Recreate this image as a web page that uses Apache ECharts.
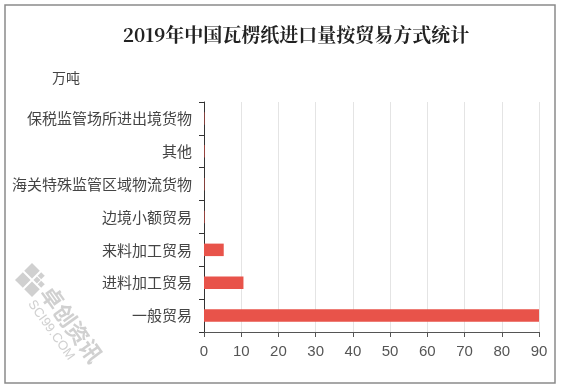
<!DOCTYPE html>
<html><head><meta charset="utf-8">
<script src="https://cdn.jsdelivr.net/npm/echarts@6/dist/echarts.min.js"></script>
<style>html,body{margin:0;padding:0;background:#fff}#c{width:562px;height:388px}</style>
</head><body><div id="c"></div>
<script>
const categories = ['一般贸易','进料加工贸易','来料加工贸易','边境小额贸易','海关特殊监管区域物流货物','其他','保税监管场所进出境货物'];
const values = [90.2, 10.6, 5.3, 0.15, 0.12, 0.15, 0.12];
const xTicks = [0,10,20,30,40,50,60,70,80,90];
const titleText = '2019年中国瓦楞纸进口量按贸易方式统计';
const unitText = '万吨';

const wm = 'rgba(170,170,170,0.55)';
const chart = echarts.init(document.getElementById('c'));
chart.setOption({
  animation:false,
  backgroundColor:'#fff',
  title:{text:titleText,left:291,top:20,textAlign:'center',
    textStyle:{fontFamily:'Noto Serif CJK SC, Noto Sans CJK SC',fontSize:19,fontWeight:'bold',color:'#222'}},
  graphic:[
    {type:'rect',shape:{x:5,y:5,width:550,height:378},style:{fill:'none',stroke:'#8a8a8a',lineWidth:1.5}},
    {type:'text',left:52,top:71,style:{text:unitText,fontFamily:'Noto Sans CJK SC',fontSize:14,fill:'#444'}},
    {type:'group',x:32,y:280,rotation:Math.PI/4,children:[
      {type:'rect',shape:{x:-12,y:-12,width:11,height:11},style:{fill:wm}},
      {type:'rect',shape:{x:1,y:-12,width:11,height:11},style:{fill:wm}},
      {type:'rect',shape:{x:-12,y:1,width:11,height:11},style:{fill:wm}},
      {type:'rect',shape:{x:1,y:1,width:5,height:5},style:{fill:wm}},
      {type:'rect',shape:{x:7,y:1,width:5,height:5},style:{fill:wm}},
      {type:'rect',shape:{x:1,y:7,width:5,height:5},style:{fill:wm}}
    ]},
    {type:'text',x:55,y:282,rotation:-0.95,style:{text:'卓创资讯',fontFamily:'Noto Sans CJK SC',fontSize:22,fontWeight:'bold',fill:wm}},
    {type:'text',x:36,y:298,rotation:-0.95,style:{text:'SCI99.COM',fontFamily:'Liberation Sans',fontSize:13,fill:wm}}
  ],
  grid:{left:204,right:23,top:102,bottom:56,containLabel:false},
  xAxis:{type:'value',min:0,max:90,interval:10,
    axisLine:{show:true,lineStyle:{color:'#555'}},
    axisTick:{show:true,length:5,lineStyle:{color:'#555'}},
    axisLabel:{color:'#555',fontSize:15,fontFamily:'Liberation Sans, Arial',margin:12,
      formatter:v=>xTicks.includes(v)?String(v):''},
    splitLine:{show:true,lineStyle:{color:'#e4e4e4'}}},
  yAxis:{type:'category',data:categories,
    axisLine:{show:true,lineStyle:{color:'#333'}},
    axisTick:{show:true,length:5,lineStyle:{color:'#333'}},
    axisLabel:{color:'#444',fontSize:15,fontFamily:'Noto Sans CJK SC',margin:12}},
  series:[{type:'bar',data:values,barWidth:'38%',itemStyle:{color:'#e8534a'}}]
});
</script></body></html>
